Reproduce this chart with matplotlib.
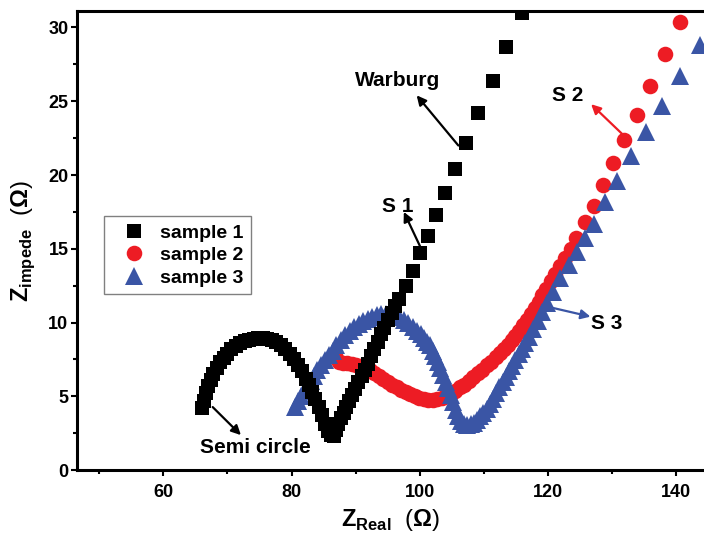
import matplotlib
matplotlib.use('Agg')
import matplotlib.pyplot as plt
from matplotlib.ticker import MultipleLocator

# Nyquist data (Z_real, Z_imag in ohm)
s1_x = [66.1, 66.4, 66.7, 67.0, 67.4, 67.8, 68.3, 68.8, 69.4, 70.0, 70.6, 71.3, 72.0, 72.7,
        73.4, 74.1, 74.8, 75.5, 76.2, 76.9, 77.6, 78.3, 79.0, 79.7, 80.4, 81.0, 81.6, 82.2,
        82.7, 83.2, 83.7, 84.2, 84.7, 85.2, 85.7, 86.2, 86.6, 86.9, 87.3, 87.7, 88.1, 88.5,
        88.9, 89.4, 89.9, 90.4, 90.9, 91.4, 91.9, 92.4, 92.9, 93.4, 93.9, 94.4, 95.0, 95.6,
        96.2, 96.8, 97.8, 98.9, 100.0, 101.2, 102.5, 103.9, 105.5, 107.2, 109.1, 111.4,
        113.4, 115.9]
s1_y = [4.2, 4.7, 5.2, 5.7, 6.1, 6.5, 6.9, 7.3, 7.6, 7.9, 8.2, 8.4, 8.6, 8.75,
        8.85, 8.9, 8.95, 8.95, 8.9, 8.8, 8.65, 8.45, 8.2, 7.9, 7.55, 7.15, 6.7, 6.2,
        5.8, 5.3, 4.8, 4.25, 3.7, 3.15, 2.65, 2.35, 2.3, 2.7, 3.1, 3.5, 3.9, 4.3,
        4.7, 5.1, 5.5, 5.95, 6.4, 6.8, 7.2, 7.7, 8.2, 8.7, 9.2, 9.65, 10.15, 10.65,
        11.1, 11.6, 12.5, 13.5, 14.7, 15.9, 17.3, 18.8, 20.4, 22.2, 24.2, 26.4,
        28.7, 31.0]

s2_x = [86.9, 87.4, 88.0, 88.7, 89.4, 90.1, 90.8, 91.5, 92.2, 92.9, 93.6, 94.3, 95.0, 95.7,
        96.4, 97.1, 97.8, 98.5, 99.2, 99.9, 100.6, 101.3, 102.0, 102.7, 103.4, 104.1, 104.8,
        105.5, 106.2, 106.9, 107.6, 108.3, 109.0, 109.7, 110.4, 111.1, 111.8, 112.5, 113.1,
        113.7, 114.3, 114.9, 115.5, 116.1, 116.7, 117.3, 117.9, 118.5, 119.1, 119.7, 120.4,
        121.1, 121.8, 122.6, 123.5, 124.4, 125.8, 127.1, 128.5, 130.1, 131.9, 133.8, 135.9,
        138.2, 140.5]
s2_y = [7.6, 7.35, 7.25, 7.25, 7.2, 7.15, 7.05, 6.95, 6.8, 6.6, 6.4, 6.2, 6.0, 5.8,
        5.6, 5.45, 5.3, 5.15, 5.0, 4.9, 4.8, 4.75, 4.75, 4.8, 4.9, 5.0, 5.15,
        5.35, 5.6, 5.8, 6.05, 6.3, 6.55, 6.8, 7.1, 7.35, 7.65, 7.95, 8.2,
        8.5, 8.8, 9.1, 9.45, 9.8, 10.2, 10.6, 11.0, 11.4, 11.85, 12.3, 12.8,
        13.3, 13.8, 14.4, 15.0, 15.7, 16.8, 17.9, 19.3, 20.8, 22.4, 24.1, 26.0,
        28.2, 30.4]

s3_x = [80.5, 81.0, 81.5, 82.0, 82.5, 83.0, 83.5, 84.0, 84.6, 85.2, 85.8, 86.4, 87.0, 87.7,
        88.4, 89.1, 89.8, 90.5, 91.2, 91.9, 92.6, 93.3, 94.0, 94.7, 95.4, 96.1, 96.8, 97.5,
        98.2, 98.9, 99.5, 100.1, 100.6, 101.1, 101.6, 102.0, 102.4, 102.8, 103.2, 103.6,
        104.0, 104.4, 104.8, 105.2, 105.6, 106.0, 106.4, 106.9, 107.4, 107.9, 108.4, 108.9,
        109.4, 109.9, 110.4, 110.9, 111.4, 111.9, 112.4, 112.9, 113.4, 113.9, 114.4, 114.9,
        115.4, 115.9, 116.4, 117.0, 117.7, 118.4, 119.1, 119.8, 120.8, 121.9, 123.2, 124.5,
        125.7, 127.1, 128.8, 130.7, 132.9, 135.3, 137.8, 140.5, 143.7]
s3_y = [4.3, 4.65, 5.0, 5.35, 5.7, 6.05, 6.4, 6.75, 7.1, 7.45, 7.8, 8.1, 8.45, 8.8,
        9.15, 9.45, 9.7, 9.9, 10.1, 10.25, 10.4, 10.5, 10.55, 10.6, 10.6, 10.5, 10.35, 10.15,
        9.95, 9.7, 9.45, 9.2, 8.95, 8.7, 8.45, 8.1, 7.7, 7.3, 6.9, 6.45,
        6.0, 5.55, 5.1, 4.6, 4.1, 3.65, 3.3, 3.1, 3.05, 3.1, 3.2, 3.4,
        3.65, 3.9, 4.15, 4.5, 4.85, 5.25, 5.6, 5.95, 6.3, 6.7, 7.05, 7.45,
        7.85, 8.2, 8.6, 9.05, 9.55, 10.1, 10.7, 11.3, 12.1, 13.0, 13.9, 14.8,
        15.7, 16.7, 18.2, 19.6, 21.3, 22.9, 24.7, 26.7, 28.8]

labels = ['sample 1', 'sample 2', 'sample 3']

BLACK = '#000000'
RED = '#ed1c24'
BLUE = '#3a55a5'

plt.rcParams['font.family'] = ['Liberation Sans', 'DejaVu Sans']
plt.rcParams['mathtext.fontset'] = 'custom'
plt.rcParams['mathtext.rm'] = 'Liberation Sans:bold'
plt.rcParams['mathtext.bf'] = 'Liberation Sans:bold'

fig = plt.figure(figsize=(7.04, 5.36), dpi=100)
ax = fig.add_axes([0.109, 0.123, 0.891, 0.856])

ax.plot(s2_x, s2_y, 'o', color=RED, ms=11.2, mew=0, label=labels[1], zorder=2)
ax.plot(s3_x, s3_y, '^', color=BLUE, ms=12.5, mew=0, label=labels[2], zorder=3)
ax.plot(s1_x, s1_y, 's', color=BLACK, ms=10.3, mew=0, label=labels[0], zorder=4)

ax.set_xlim(46.5, 144.3)
ax.set_ylim(0, 31.1)

ax.xaxis.set_major_locator(MultipleLocator(20))
ax.xaxis.set_minor_locator(MultipleLocator(10))
ax.yaxis.set_major_locator(MultipleLocator(5))
ax.yaxis.set_minor_locator(MultipleLocator(2.5))

for side in ['left', 'bottom', 'top']:
    ax.spines[side].set_linewidth(2.2)
ax.spines['right'].set_visible(False)
ax.tick_params(which='major', direction='out', length=4, width=1.5, top=False, right=False)
ax.tick_params(which='minor', direction='out', length=3, width=1.5, top=False, right=False)

for t in ax.get_xticklabels() + ax.get_yticklabels():
    t.set_fontweight('bold')
    t.set_fontsize(13)
ax.tick_params(axis='x', pad=6)
ax.tick_params(axis='y', pad=2)

ax.set_xlabel(r'$\mathbf{Z}_{\mathbf{Real}}$  ($\Omega$)', fontsize=17, labelpad=4)
ax.set_ylabel(r'$\mathbf{Z}_{\mathbf{impede}}$  ($\Omega$)', fontsize=17, labelpad=8)

# legend in the order sample 1, 2, 3
h, l = ax.get_legend_handles_labels()
order = [l.index(s) for s in labels]
leg = ax.legend([h[i] for i in order], [l[i] for i in order],
                loc='upper left', bbox_to_anchor=(0.043, 0.553), borderaxespad=0,
                frameon=True, fancybox=False, framealpha=1, edgecolor='#808080',
                prop={'weight': 'bold', 'size': 14}, handletextpad=0.2,
                labelspacing=0.25, borderpad=0.4, handlelength=2.3)
leg.get_frame().set_linewidth(1.0)

txt = dict(fontsize=15, fontweight='bold', ha='center', va='center', zorder=6)
arrow = dict(arrowstyle='-|>', lw=1.6, mutation_scale=14, shrinkA=0, shrinkB=0)

ax.text(96.6, 26.4, 'Warburg', **txt)
ax.annotate('', xy=(99.5, 25.4), xytext=(106.0, 22.0), arrowprops=dict(color=BLACK, **arrow), zorder=6)

ax.text(96.5, 17.85, 'S 1', **txt)
ax.annotate('', xy=(97.5, 17.5), xytext=(100.1, 15.1), arrowprops=dict(color=BLACK, **arrow), zorder=6)

ax.text(123.0, 25.4, 'S 2', **txt)
ax.annotate('', xy=(126.7, 24.8), xytext=(131.5, 22.8), arrowprops=dict(color=RED, **arrow), zorder=6)

ax.text(129.2, 9.95, 'S 3', **txt)
ax.annotate('', xy=(126.6, 10.4), xytext=(120.05, 11.06), arrowprops=dict(color=BLUE, **arrow), zorder=6)

ax.text(74.4, 1.5, 'Semi circle', **txt)
ax.annotate('', xy=(72.1, 2.37), xytext=(67.7, 4.27), arrowprops=dict(color=BLACK, **arrow), zorder=6)

fig.savefig('out.png', dpi=100)
